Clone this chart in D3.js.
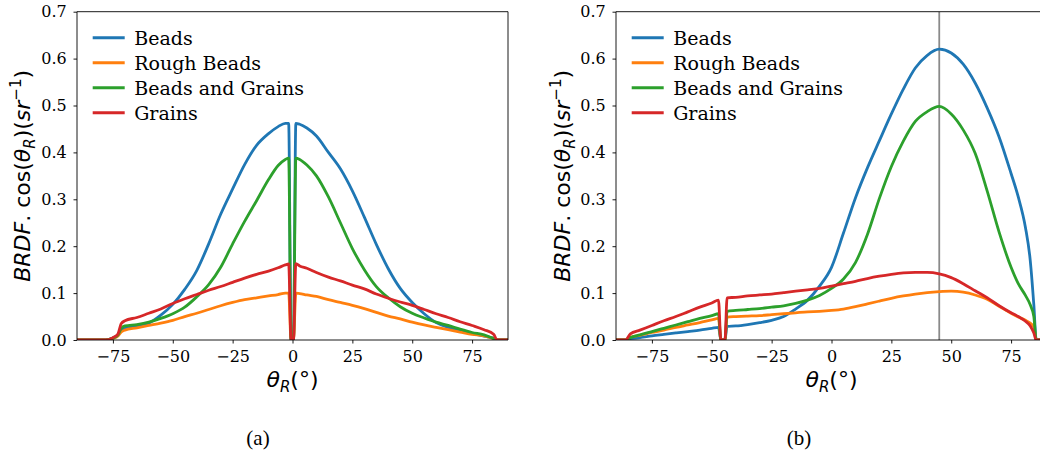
<!DOCTYPE html>
<html>
<head>
<meta charset="utf-8">
<script src="https://cdn.jsdelivr.net/npm/d3@7"></script>
<style>
  html, body { margin: 0; padding: 0; background: #fff; }
  svg { display: block; }
  .serif { font-family: "DejaVu Serif", serif; }
  .math { font-family: "DejaVu Sans", sans-serif; }
</style>
</head>
<body>
<svg id="chart" width="1040" height="456"></svg>
<script>
// ---------------- DATA ----------------
const seriesNames = ["Beads", "Rough Beads", "Beads and Grains", "Grains"];
const seriesColors = ["#1f77b4", "#ff7f0e", "#2ca02c", "#d62728"];

const xTicks = [-75, -50, -25, 0, 25, 50, 75];
const xTickLabels = ["\u221275", "\u221250", "\u221225", "0", "25", "50", "75"];
const yTicks = [0, 0.1, 0.2, 0.3, 0.4, 0.5, 0.6, 0.7];
const yTickLabels = ["0.0", "0.1", "0.2", "0.3", "0.4", "0.5", "0.6", "0.7"];

// Panel (a)
const angleA = [-90, -78, -75, -73, -71.5, -70, -65, -60, -55, -50, -45, -40, -35, -30, -25, -20, -15, -10, -6, -3, -1.6, -0.6, 0.4, 1.4, 3, 6, 10, 15, 20, 25, 30, 35, 40, 45, 50, 55, 60, 65, 70, 75, 80, 84, 85.5, 90];
const beadsA = [0, 0, 0.004, 0.01, 0.02, 0.025, 0.029, 0.036, 0.053, 0.076, 0.108, 0.148, 0.205, 0.268, 0.322, 0.374, 0.415, 0.440, 0.455, 0.462, 0.462, 0, 0, 0.462, 0.460, 0.452, 0.435, 0.400, 0.365, 0.318, 0.262, 0.204, 0.152, 0.110, 0.080, 0.056, 0.037, 0.027, 0.020, 0.014, 0.008, 0.004, 0, 0];
const roughA = [0, 0, 0.003, 0.008, 0.017, 0.021, 0.026, 0.031, 0.036, 0.042, 0.050, 0.057, 0.065, 0.073, 0.080, 0.086, 0.090, 0.094, 0.097, 0.100, 0.100, 0, 0, 0.100, 0.099, 0.096, 0.093, 0.086, 0.080, 0.074, 0.067, 0.059, 0.051, 0.045, 0.038, 0.032, 0.027, 0.022, 0.017, 0.012, 0.009, 0.003, 0, 0];
const mixA = [0, 0, 0.004, 0.01, 0.025, 0.030, 0.033, 0.038, 0.046, 0.056, 0.070, 0.092, 0.118, 0.155, 0.205, 0.253, 0.297, 0.342, 0.372, 0.385, 0.388, 0, 0, 0.388, 0.385, 0.373, 0.350, 0.305, 0.250, 0.195, 0.150, 0.114, 0.090, 0.071, 0.057, 0.047, 0.038, 0.031, 0.023, 0.016, 0.011, 0.003, 0, 0];
const grainsA = [0, 0, 0.005, 0.012, 0.035, 0.041, 0.048, 0.057, 0.066, 0.078, 0.088, 0.097, 0.106, 0.114, 0.123, 0.132, 0.140, 0.147, 0.154, 0.160, 0.162, 0, 0, 0.163, 0.158, 0.153, 0.144, 0.134, 0.126, 0.117, 0.109, 0.098, 0.089, 0.081, 0.074, 0.065, 0.056, 0.048, 0.039, 0.031, 0.022, 0.012, 0, 0];

// Panel (b)
const angleB = [-90, -86, -84, -80, -75, -70, -65, -60, -55, -50, -47.2, -46.2, -44.5, -43.6, -40, -35, -30, -25, -20, -15, -10, -5, 0, 5, 10, 15, 20, 25, 30, 35, 40, 45, 50, 55, 60, 65, 70, 75, 78, 81, 83, 84.5, 85.5, 90];
const beadsB = [0, 0, 0.003, 0.005, 0.009, 0.012, 0.015, 0.018, 0.021, 0.025, 0.027, 0, 0, 0.029, 0.030, 0.033, 0.037, 0.042, 0.050, 0.066, 0.085, 0.115, 0.155, 0.228, 0.303, 0.367, 0.425, 0.482, 0.535, 0.580, 0.607, 0.620, 0.612, 0.588, 0.548, 0.495, 0.433, 0.355, 0.305, 0.240, 0.170, 0.075, 0, 0];
const roughB = [0, 0, 0.006, 0.010, 0.016, 0.021, 0.027, 0.032, 0.037, 0.043, 0.046, 0, 0, 0.049, 0.050, 0.051, 0.052, 0.054, 0.056, 0.058, 0.060, 0.061, 0.063, 0.066, 0.071, 0.077, 0.083, 0.089, 0.094, 0.098, 0.101, 0.103, 0.104, 0.102, 0.096, 0.087, 0.072, 0.057, 0.049, 0.042, 0.036, 0.028, 0, 0];
const mixB = [0, 0, 0.005, 0.011, 0.018, 0.025, 0.032, 0.039, 0.046, 0.052, 0.056, 0, 0, 0.061, 0.063, 0.065, 0.067, 0.070, 0.073, 0.078, 0.085, 0.095, 0.110, 0.130, 0.165, 0.225, 0.302, 0.370, 0.424, 0.466, 0.487, 0.498, 0.482, 0.448, 0.398, 0.318, 0.230, 0.155, 0.120, 0.095, 0.075, 0.050, 0, 0];
const grainsB = [0, 0, 0.013, 0.021, 0.031, 0.041, 0.050, 0.060, 0.070, 0.079, 0.085, 0, 0, 0.090, 0.091, 0.094, 0.096, 0.098, 0.101, 0.104, 0.107, 0.110, 0.115, 0.120, 0.125, 0.131, 0.136, 0.140, 0.143, 0.144, 0.144, 0.141, 0.133, 0.120, 0.105, 0.090, 0.073, 0.058, 0.050, 0.040, 0.030, 0.015, 0, 0];

const specularB = 45;
const captions = ["(a)", "(b)"];

// ---------------- DRAW ----------------
const svg = d3.select("#chart");

function drawPanel(cfg, idx) {
  const x = d3.scaleLinear().domain([-90, 90]).range([cfg.left, cfg.right]);
  const y = d3.scaleLinear().domain([0, 0.7]).range([cfg.bottom, cfg.top]);
  const g = svg.append("g");

  const clipId = "clip" + idx;
  svg.append("clipPath").attr("id", clipId).append("rect")
    .attr("x", cfg.left).attr("y", cfg.top)
    .attr("width", cfg.right - cfg.left).attr("height", cfg.bottom - cfg.top);

  if (cfg.vline !== undefined) {
    g.append("line")
      .attr("x1", x(cfg.vline)).attr("x2", x(cfg.vline))
      .attr("y1", y(0)).attr("y2", y(0.7))
      .attr("stroke", "#8a8a8a").attr("stroke-width", 1.8)
      .attr("clip-path", `url(#${clipId})`);
  }

  const line = d3.line().x(d => x(d[0])).y(d => y(d[1])).curve(d3.curveMonotoneX);
  cfg.series.forEach((vals, i) => {
    const pts = cfg.angles.map((a, k) => [a, vals[k]]);
    g.append("path").datum(pts)
      .attr("d", line)
      .attr("fill", "none")
      .attr("stroke", seriesColors[i])
      .attr("stroke-width", 2.8)
      .attr("stroke-linejoin", "round")
      .attr("clip-path", `url(#${clipId})`);
  });

  const xAxis = d3.axisBottom(x).tickValues(xTicks)
    .tickFormat((d, i) => xTickLabels[i]).tickSize(3.5).tickPadding(7.5);
  const yAxis = d3.axisLeft(y).tickValues(yTicks)
    .tickFormat((d, i) => yTickLabels[i]).tickSize(3.5).tickPadding(6.8);

  const gx = g.append("g").attr("transform", `translate(0,${cfg.bottom})`).call(xAxis);
  const gy = g.append("g").attr("transform", `translate(${cfg.left},0)`).call(yAxis);
  [gx, gy].forEach(a => {
    a.attr("font-family", null).attr("font-size", null);
    a.select(".domain").remove();
    a.selectAll(".tick line").attr("stroke", "#000").attr("stroke-width", 0.9);
    a.selectAll(".tick text").attr("fill", "#000").attr("class", "serif")
      .style("font-size", "16px");
  });

  const sp = g.append("g").attr("fill", "none").attr("stroke", "#000").attr("stroke-width", 0.9);
  sp.append("line").attr("x1", cfg.left).attr("x2", cfg.left).attr("y1", cfg.top).attr("y2", cfg.bottom);
  sp.append("line").attr("x1", cfg.left).attr("x2", cfg.right).attr("y1", cfg.bottom).attr("y2", cfg.bottom);
  sp.append("line").attr("x1", cfg.left).attr("x2", cfg.right).attr("y1", cfg.top).attr("y2", cfg.top);
  sp.append("line").attr("x1", cfg.right).attr("x2", cfg.right).attr("y1", cfg.top).attr("y2", cfg.bottom);

  // x label
  const cx = (cfg.left + cfg.right) / 2;
  const xl = g.append("text").attr("class", "math").attr("x", cx).attr("y", 387)
    .attr("text-anchor", "middle").style("font-size", "22px").attr("fill", "#000");
  xl.append("tspan").style("font-style", "italic").text("\u03b8");
  xl.append("tspan").style("font-style", "italic").style("font-size", "15px").attr("dy", 4.5).text("R");
  xl.append("tspan").attr("dy", -4.5).text("(\u00b0)");

  // y label
  const cy = (cfg.top + cfg.bottom) / 2;
  const yl = g.append("text").attr("class", "math")
    .attr("transform", `translate(${cfg.ylabelX},${cy}) rotate(-90)`)
    .attr("text-anchor", "middle").style("font-size", "22px").attr("fill", "#000");
  yl.append("tspan").style("font-style", "italic").text("BRDF");
  yl.append("tspan").text(". cos(");
  yl.append("tspan").style("font-style", "italic").text("\u03b8");
  yl.append("tspan").style("font-style", "italic").style("font-size", "15px").attr("dy", 4.5).text("R");
  yl.append("tspan").attr("dy", -4.5).text(")(");
  yl.append("tspan").style("font-style", "italic").text("sr");
  yl.append("tspan").style("font-size", "15px").attr("dy", -9).text("\u22121");
  yl.append("tspan").attr("dy", 9).text(")");

  // legend
  const lg = g.append("g");
  seriesNames.forEach((name, i) => {
    const ly = cfg.legendY + i * 25;
    lg.append("line")
      .attr("x1", cfg.legendX).attr("x2", cfg.legendX + 32)
      .attr("y1", ly).attr("y2", ly)
      .attr("stroke", seriesColors[i]).attr("stroke-width", 3);
    lg.append("text").attr("class", "serif")
      .attr("x", cfg.legendX + 41.5).attr("y", ly + 6.8)
      .style("font-size", "19px").attr("fill", "#000")
      .text(name);
  });

  svg.append("text").attr("x", cfg.captionX).attr("y", 445)
    .attr("text-anchor", "middle")
    .style("font-family", "'Liberation Serif', serif").style("font-size", "21px")
    .attr("fill", "#000").text(captions[idx]);
}

drawPanel({
  left: 77, right: 508, top: 11.7, bottom: 340,
  angles: angleA, series: [beadsA, roughA, mixA, grainsA],
  ylabelX: 30, legendX: 92.7, legendY: 37.7, captionX: 258
}, 0);

drawPanel({
  left: 616, right: 1047, top: 11.7, bottom: 340,
  angles: angleB, series: [beadsB, roughB, mixB, grainsB],
  vline: specularB,
  ylabelX: 570, legendX: 631.7, legendY: 37.7, captionX: 799
}, 1);
</script>
</body>
</html>
